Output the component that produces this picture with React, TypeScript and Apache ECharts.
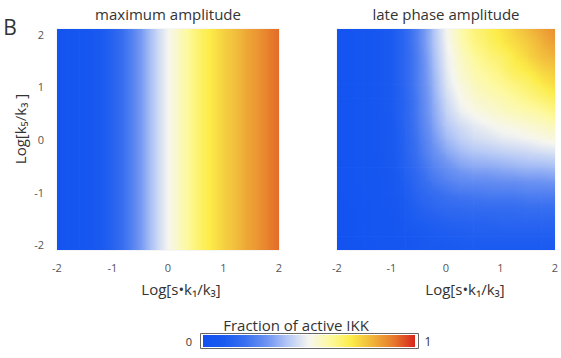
import React, { useEffect, useRef } from 'react';
import * as echarts from 'echarts';

const TICKS = [-2, -1, 0, 1, 2];

// maximum amplitude: value depends only on Log[s*k1/k3]
const LEFT_X = [-2, -1.8, -1.6, -1.4, -1.2, -1, -0.8, -0.6, -0.4, -0.2, 0, 0.2, 0.4, 0.6, 0.8, 1, 1.2, 1.4, 1.6, 1.8, 2];
const LEFT_VALUES = [0.03, 0.04, 0.05, 0.07, 0.10, 0.14, 0.20, 0.27, 0.35, 0.43, 0.50, 0.56, 0.62, 0.67, 0.71, 0.75, 0.78, 0.82, 0.85, 0.89, 0.92];

// late phase amplitude (rows listed from Log[k5/k3] = 2 down to -2)
const RIGHT_X = [-2, -1.75, -1.5, -1.25, -1, -0.75, -0.5, -0.25, 0, 0.25, 0.5, 0.75, 1, 1.25, 1.5, 1.75, 2];
const RIGHT_Y_TOP_DOWN = [2, 1.75, 1.5, 1.25, 1, 0.75, 0.5, 0.25, 0, -0.25, -0.5, -0.75, -1, -1.25, -1.5, -1.75, -2];
const RIGHT_ROWS = [
  [0.03, 0.04, 0.05, 0.07, 0.10, 0.16, 0.26, 0.38, 0.50, 0.58, 0.64, 0.68, 0.71, 0.75, 0.79, 0.83, 0.86],
  [0.03, 0.04, 0.05, 0.07, 0.10, 0.16, 0.26, 0.38, 0.49, 0.57, 0.63, 0.66, 0.70, 0.73, 0.76, 0.80, 0.84],
  [0.03, 0.04, 0.05, 0.07, 0.10, 0.16, 0.25, 0.37, 0.48, 0.55, 0.60, 0.64, 0.66, 0.70, 0.74, 0.78, 0.80],
  [0.03, 0.04, 0.05, 0.07, 0.10, 0.16, 0.25, 0.36, 0.47, 0.54, 0.58, 0.61, 0.64, 0.68, 0.70, 0.74, 0.76],
  [0.03, 0.04, 0.05, 0.07, 0.10, 0.16, 0.25, 0.35, 0.46, 0.52, 0.56, 0.59, 0.61, 0.64, 0.66, 0.70, 0.73],
  [0.03, 0.04, 0.05, 0.07, 0.10, 0.15, 0.24, 0.34, 0.44, 0.50, 0.54, 0.56, 0.58, 0.60, 0.63, 0.65, 0.68],
  [0.03, 0.04, 0.05, 0.07, 0.10, 0.15, 0.24, 0.33, 0.42, 0.48, 0.51, 0.53, 0.55, 0.57, 0.58, 0.60, 0.63],
  [0.03, 0.04, 0.05, 0.07, 0.09, 0.15, 0.23, 0.32, 0.40, 0.44, 0.47, 0.49, 0.51, 0.52, 0.54, 0.55, 0.57],
  [0.03, 0.04, 0.05, 0.07, 0.09, 0.14, 0.22, 0.30, 0.37, 0.41, 0.44, 0.45, 0.47, 0.48, 0.49, 0.51, 0.52],
  [0.03, 0.04, 0.05, 0.07, 0.09, 0.14, 0.21, 0.28, 0.33, 0.37, 0.39, 0.40, 0.41, 0.42, 0.43, 0.44, 0.45],
  [0.03, 0.04, 0.05, 0.06, 0.09, 0.13, 0.19, 0.25, 0.29, 0.32, 0.34, 0.34, 0.35, 0.36, 0.37, 0.37, 0.38],
  [0.03, 0.04, 0.05, 0.06, 0.08, 0.12, 0.17, 0.22, 0.25, 0.27, 0.28, 0.28, 0.29, 0.29, 0.30, 0.30, 0.31],
  [0.03, 0.04, 0.04, 0.06, 0.08, 0.11, 0.15, 0.18, 0.20, 0.22, 0.22, 0.23, 0.23, 0.23, 0.24, 0.24, 0.24],
  [0.03, 0.03, 0.04, 0.05, 0.07, 0.10, 0.13, 0.15, 0.17, 0.17, 0.18, 0.18, 0.18, 0.18, 0.19, 0.19, 0.19],
  [0.03, 0.03, 0.04, 0.05, 0.06, 0.09, 0.11, 0.12, 0.13, 0.14, 0.14, 0.14, 0.15, 0.15, 0.15, 0.15, 0.15],
  [0.02, 0.03, 0.04, 0.05, 0.06, 0.07, 0.09, 0.10, 0.11, 0.11, 0.12, 0.12, 0.12, 0.12, 0.12, 0.12, 0.12],
  [0.02, 0.03, 0.03, 0.04, 0.05, 0.07, 0.08, 0.09, 0.09, 0.10, 0.10, 0.10, 0.10, 0.10, 0.10, 0.10, 0.10],
];

const COLORS = ['#1050f0', '#1a5af0', '#3a70f0', '#6d93f2', '#b5c8f6', '#f6f6f0', '#fdf9a0', '#fcec48', '#f0b43a', '#e67a2c', '#d8261e'];

const FONT = '"Open Sans"';

function hexToRgb(h: string) {
  const n = parseInt(h.slice(1), 16);
  return [(n >> 16) & 255, (n >> 8) & 255, n & 255];
}
const RGB = COLORS.map(hexToRgb);
function cmap(v: number) {
  const t = Math.max(0, Math.min(1, v)) * (RGB.length - 1);
  const i = Math.min(RGB.length - 2, Math.floor(t));
  const f = t - i;
  const c = RGB[i].map((x, k) => Math.round(x + (RGB[i + 1][k] - x) * f));
  return `rgb(${c[0]},${c[1]},${c[2]})`;
}

function renderCell(params: any, api: any) {
  const x0 = api.value(0), x1 = api.value(1), y0 = api.value(2), y1 = api.value(3);
  const a = api.value(4), b = api.value(5), c = api.value(6), d = api.value(7);
  const p0 = api.coord([x0, y1]);
  const p1 = api.coord([x1, y0]);
  const w = p1[0] - p0[0];
  const h = p1[1] - p0[1];
  const gx = (b - a + (d - c)) / 2;
  const gy = (c - a + (d - b)) / 2;
  const m = (a + b + c + d) / 4;
  const len = Math.hypot(gx, gy);
  let fill: any;
  if (len < 1e-6) {
    fill = cmap(m);
  } else {
    const nx = gx / len, ny = gy / len;
    const ext = 0.5 * (Math.abs(nx) + Math.abs(ny));
    const vlo = m - len * ext, vhi = m + len * ext;
    const stops = [0, 0.25, 0.5, 0.75, 1].map((t) => ({ offset: t, color: cmap(vlo + (vhi - vlo) * t) }));
    fill = new echarts.graphic.LinearGradient(0.5 - ext * nx, 0.5 + ext * ny, 0.5 + ext * nx, 0.5 - ext * ny, stops);
  }
  return {
    type: 'rect',
    shape: { x: p0[0], y: p0[1], width: w + 0.7, height: h + 0.7 },
    style: { fill, stroke: null },
  };
}

export default function App() {
  const ref = useRef<HTMLDivElement>(null);
  useEffect(() => {
    const chart = echarts.init(ref.current!, null, { renderer: 'svg' });
    const leftData: number[][] = [];
    for (let i = 0; i < LEFT_X.length - 1; i++) {
      const v0 = LEFT_VALUES[i], v1 = LEFT_VALUES[i + 1];
      leftData.push([LEFT_X[i], LEFT_X[i + 1], -2, 2, v0, v1, v0, v1]);
    }
    const rightData: number[][] = [];
    for (let r = 0; r < RIGHT_ROWS.length - 1; r++) {
      for (let i = 0; i < RIGHT_X.length - 1; i++) {
        rightData.push([
          RIGHT_X[i], RIGHT_X[i + 1], RIGHT_Y_TOP_DOWN[r + 1], RIGHT_Y_TOP_DOWN[r],
          RIGHT_ROWS[r + 1][i], RIGHT_ROWS[r + 1][i + 1], RIGHT_ROWS[r][i], RIGHT_ROWS[r][i + 1],
        ]);
      }
    }
    const labelStyle = { color: '#555', fontSize: 11, fontFamily: FONT };
    const hidden = { axisLine: { show: false }, axisTick: { show: false }, splitLine: { show: false } };
    const dataX = (gridIndex: number) => ({ gridIndex, type: 'value', min: -2, max: 2, ...hidden, axisLabel: { show: false } });
    const dataY = (gridIndex: number) => ({ gridIndex, type: 'value', min: -2, max: 2, ...hidden, axisLabel: { show: false } });
    const labelX = (gridIndex: number) => ({
      gridIndex, type: 'value', min: -2, max: 2, position: 'bottom', ...hidden,
      axisLabel: { ...labelStyle, margin: 12, customValues: TICKS },
    });
    const labelY = (gridIndex: number, show: boolean) => ({
      gridIndex, type: 'value', min: -2.1, max: 2.1, position: 'left', ...hidden,
      axisLabel: { ...labelStyle, margin: 13, show, customValues: TICKS },
    });
    const txt = (text: string, x: number, y: number, fontSize: number, extra: any = {}) => ({
      type: 'text', x, y, ...extra,
      style: { text, fontSize, fontFamily: FONT, fill: '#333', textAlign: 'center', textVerticalAlign: 'middle' },
    });
    const barStops = COLORS.map((c, i) => ({ offset: i / (COLORS.length - 1), color: c }));
    chart.setOption({
      animation: false,
      backgroundColor: '#fff',
      grid: [
        { left: 57, top: 29, width: 222, height: 221, show: true, borderColor: '#ececec', borderWidth: 1 },
        { left: 337, top: 29, width: 222, height: 221, show: true, borderColor: '#ececec', borderWidth: 1 },
      ],
      xAxis: [dataX(0), labelX(0), dataX(1), labelX(1)],
      yAxis: [dataY(0), labelY(0, true), dataY(1), labelY(1, false)],
      graphic: [
        txt('B', 10, 27, 21, {}),
        txt('maximum amplitude', 168, 14, 15),
        txt('late phase amplitude', 446, 14, 15),
        txt('Log[s•k₁/k₃]', 181, 289, 15),
        txt('Log[s•k₁/k₃]', 465, 289, 15),
        txt('Log[k₅/k₃ ]', 20, 129, 15, { rotation: Math.PI / 2 }),
        txt('Fraction of active IKK', 296, 325, 15),
        txt('0', 189, 341, 11),
        txt('1', 428, 341, 12),
        {
          type: 'rect', shape: { x: 203, y: 335, width: 212, height: 12 },
          style: { fill: new echarts.graphic.LinearGradient(0, 0, 1, 0, barStops) },
        },
        { type: 'rect', shape: { x: 200.5, y: 333.5, width: 218, height: 15 }, style: { fill: 'none', stroke: '#666', lineWidth: 1 } },
      ],
      series: [
        {
          type: 'custom', xAxisIndex: 0, yAxisIndex: 0, data: leftData, renderItem: renderCell,
          encode: { x: [0, 1], y: [2, 3] }, clip: true,
        },
        {
          type: 'custom', xAxisIndex: 2, yAxisIndex: 2, data: rightData, renderItem: renderCell,
          encode: { x: [0, 1], y: [2, 3] }, clip: true,
        },
      ],
    });
    return () => chart.dispose();
  }, []);
  return <div ref={ref} style={{ position: 'absolute', left: 0, top: 0, width: 561, height: 358 }} />;
}
